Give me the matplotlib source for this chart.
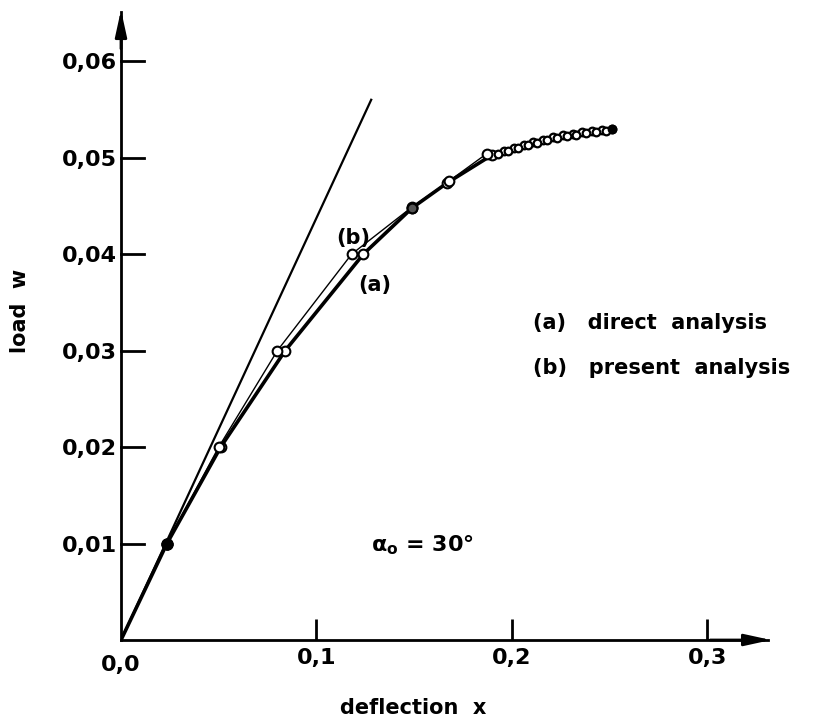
import matplotlib.pyplot as plt

# (a) direct analysis
a_x = [0.0, 0.0235, 0.051, 0.084, 0.124, 0.149, 0.167, 0.190, 0.196, 0.201, 0.206,
       0.211, 0.216, 0.221, 0.226, 0.231, 0.236, 0.241, 0.246, 0.251]
a_y = [0.0, 0.0100, 0.0200, 0.0300, 0.0400, 0.0448, 0.0474, 0.0503, 0.0507, 0.0510,
       0.0513, 0.0516, 0.0518, 0.0521, 0.0523, 0.0525, 0.0527, 0.0528, 0.0529, 0.0530]

# (b) present analysis
b_x = [0.0, 0.0235, 0.050, 0.080, 0.118, 0.149, 0.168, 0.187, 0.193, 0.198, 0.203,
       0.208, 0.213, 0.218, 0.223, 0.228, 0.233, 0.238, 0.243, 0.248]
b_y = [0.0, 0.0100, 0.0200, 0.0300, 0.0400, 0.0449, 0.0476, 0.0504, 0.0504, 0.0507,
       0.0510, 0.0513, 0.0515, 0.0518, 0.0520, 0.0522, 0.0524, 0.0526, 0.0527, 0.0528]

# tangent at origin
tan_x = [0.0, 0.128]
tan_y = [0.0, 0.056]

x_ticks = [0.0, 0.1, 0.2, 0.3]
x_labels = ['0,0', '0,1', '0,2', '0,3']
y_ticks = [0.01, 0.02, 0.03, 0.04, 0.05, 0.06]
y_labels = ['0,01', '0,02', '0,03', '0,04', '0,05', '0,06']

plt.rcParams['font.family'] = 'DejaVu Sans'
plt.rcParams['font.weight'] = 'bold'

fig = plt.figure(figsize=(8.29, 7.21), dpi=100)
ax = fig.add_axes([121 / 829, 81 / 721, (768 - 121) / 829, (640 - 12) / 721])
ax.set_xlim(0, 0.331)
ax.set_ylim(0, 0.0651)

ax.plot(tan_x, tan_y, color='black', lw=1.6)
ax.plot(a_x, a_y, color='black', lw=2.6, zorder=2)
ax.plot(b_x, b_y, color='black', lw=1.0, zorder=2)

# markers: main points larger, the dense cluster near the end smaller
ax.plot(a_x[1:8], a_y[1:8], 'o', ms=7, mfc='white', mec='black', mew=1.5, zorder=3)
ax.plot(b_x[1:8], b_y[1:8], 'o', ms=7, mfc='white', mec='black', mew=1.5, zorder=3)
ax.plot(a_x[8:], a_y[8:], 'o', ms=5.5, mfc='white', mec='black', mew=1.6, zorder=3)
ax.plot(b_x[8:], b_y[8:], 'o', ms=5.5, mfc='white', mec='black', mew=1.6, zorder=3)
ax.plot([a_x[1]], [a_y[1]], 'o', ms=8, color='black', zorder=4)
ax.plot([a_x[5]], [a_y[5]], 'o', ms=7, mfc='#555555', mec='black', mew=1.5, zorder=4)
ax.plot([a_x[-1]], [a_y[-1]], 'o', ms=6, color='black', zorder=4)

for s in ['top', 'right']:
    ax.spines[s].set_visible(False)
for s in ['left', 'bottom']:
    ax.spines[s].set_linewidth(2)

ax.set_xticks(x_ticks[1:])
ax.set_xticklabels(x_labels[1:])
ax.set_yticks(y_ticks)
ax.set_yticklabels(y_labels)
ax.tick_params(axis='x', direction='in', length=15, width=2, labelsize=16, pad=6)
ax.tick_params(axis='y', direction='inout', length=0, width=2, labelsize=16, pad=3)
for yt in y_ticks:
    ax.plot([0, 0.012], [yt, yt], color='black', lw=2, clip_on=False)
ax.text(0.0, -0.0026, '0,0', ha='center', va='center', fontsize=16, fontweight='bold')

# arrows
ax.annotate('', xy=(0.334, 0), xytext=(0.3, 0),
            arrowprops=dict(arrowstyle='-|>,head_length=1.6,head_width=0.35', color='black', lw=2),
            annotation_clip=False)
ax.annotate('', xy=(0, 0.0656), xytext=(0, 0.061),
            arrowprops=dict(arrowstyle='-|>,head_length=1.6,head_width=0.35', color='black', lw=2),
            annotation_clip=False)

ax.text(0.119, 0.0417, '(b)', fontsize=15, ha='center', va='center')
ax.text(0.130, 0.0368, '(a)', fontsize=15, ha='center', va='center')
ax.text(0.211, 0.0329, '(a)   direct  analysis', fontsize=15, va='center')
ax.text(0.211, 0.0282, '(b)   present  analysis', fontsize=15, va='center')
ax.text(0.128, 0.0098, r'$\mathbf{\alpha_o}$ = 30°', fontsize=16, va='center')

fig.text(413 / 829, 13 / 721, 'deflection  x', fontsize=15, ha='center', va='center')
fig.text(20 / 829, 410 / 721, 'load  w', fontsize=15, ha='center', va='center', rotation=90)

fig.savefig('out.png', dpi=100)
